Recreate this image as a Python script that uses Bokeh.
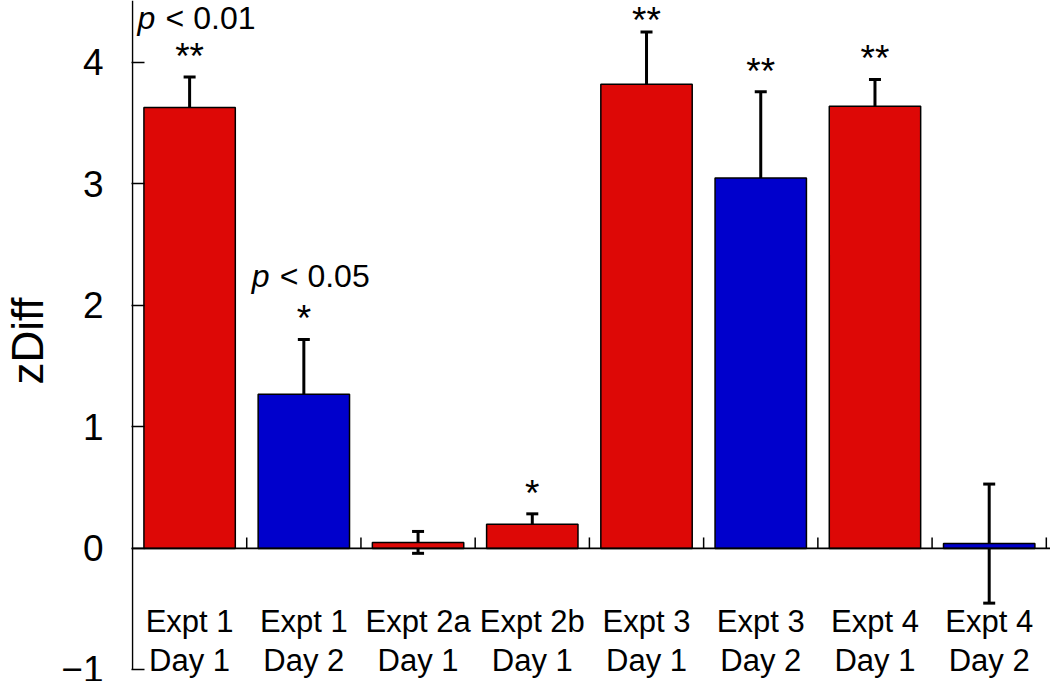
import math
from bokeh.plotting import figure
from bokeh.models import Range1d, FixedTicker, Span, ColumnDataSource, Whisker, TeeHead
from bokeh.core.properties import value
from bokeh.embed import file_html
from bokeh.resources import INLINE

# ---- data ----
expts = ["Expt 1", "Expt 1", "Expt 2a", "Expt 2b", "Expt 3", "Expt 3", "Expt 4", "Expt 4"]
days = ["Day 1", "Day 2", "Day 1", "Day 1", "Day 1", "Day 2", "Day 1", "Day 2"]
zdiff = [3.63, 1.27, 0.05, 0.20, 3.82, 3.05, 3.64, 0.04]
err = [0.25, 0.45, 0.09, 0.085, 0.43, 0.71, 0.22, 0.49]
stars = ["**", "*", "", "*", "**", "**", "**", ""]
p_index = [0, 1]
p_text = ["< 0.01", "< 0.05"]
y_ticks = [-1, 0, 1, 2, 3, 4]

RED = "#DD0806"
BLUE = "#0000CC"
FONT = "Liberation Sans"

W, H = 1050, 681
LEFT = 128
sx = 114.6                       # px per category
x_start = -0.5 - 1.0 / sx
x_end = x_start + (W - LEFT) / sx
y_end = 4.51
sy = 121.5                       # px per unit
y_start = y_end - H / sy

n = len(zdiff)
xs = list(range(n))
colors = [RED if d == "Day 1" else BLUE for d in days]
etop = [v + e for v, e in zip(zdiff, err)]
ebot = [v - e for v, e in zip(zdiff, err)]

BASE_SHIFT = 0.4  # svg text baseline shift (em) observed

# star placement (glyph centre ~27px above error top), kept inside the canvas
star_font = 37
star_off = []
for t in etop:
    dist = (y_end - t) * sy
    c = min(27, dist - 14)
    star_off.append(-c + 0.175 * star_font)

src = ColumnDataSource(dict(x=xs, top=zdiff, color=colors, upper=etop, lower=ebot,
                            stars=stars, soff=star_off, expt=expts, day=days))

p = figure(width=W, height=H, output_backend="svg", toolbar_location=None,
           x_range=Range1d(x_start, x_end), y_range=Range1d(y_start, y_end),
           min_border_left=LEFT, min_border_right=0, min_border_top=0, min_border_bottom=0,
           x_axis_location=None)
p.grid.visible = False
p.outline_line_color = None
p.background_fill_color = "white"
p.border_fill_color = "white"

# y axis
ya = p.yaxis[0]
ya.ticker = FixedTicker(ticks=y_ticks)
ya.major_label_overrides = {-1: "\u22121"}
ya.major_tick_in = 13
ya.major_tick_out = 0
ya.minor_tick_line_color = None
ya.axis_line_color = None
ya.major_tick_line_width = 1.5
ya.major_tick_line_color = "black"
ya.major_label_text_font = FONT
ya.major_label_text_font_size = "37px"
ya.major_label_text_color = "black"
ya.major_label_standoff = 28
ya.axis_label = "zDiff"
ya.axis_label_text_font = FONT
ya.axis_label_text_font_size = "44px"
ya.axis_label_text_font_style = "normal"
ya.axis_label_text_color = "black"
ya.axis_label_standoff = 6

# y axis line from the lowest tick to the top
p.segment(x0=[-0.5], y0=[y_ticks[0]], x1=[-0.5], y1=[y_end], line_color="black", line_width=1.5)

# bars
p.vbar(x="x", top="top", bottom=0, width=0.8, fill_color="color", line_color="black",
       line_width=1.5, source=src)

# zero line and category boundary ticks
p.add_layout(Span(location=0, dimension="width", line_color="black", line_width=1.8))
bounds = [i + 0.5 for i in range(n)]
p.ray(x=bounds, y=[0] * n, length=11, length_units="screen", angle=math.pi / 2,
      line_color="black", line_width=1.5)

# error bars
p.add_layout(Whisker(base="x", upper="upper", lower="lower", source=src,
                     line_color="black", line_width=3,
                     upper_head=TeeHead(size=12, line_width=3, line_color="black"),
                     lower_head=TeeHead(size=12, line_width=3, line_color="black")))

# significance stars
p.text(x="x", y="upper", text="stars", y_offset="soff", source=src,
       text_font=value(FONT), text_font_size=f"{star_font}px", text_align="center",
       text_baseline="alphabetic", text_color="black")

# p-value labels
p_font = 32
px_, py_, poff = [], [], []
for i in p_index:
    dist = (y_end - etop[i]) * sy
    base = min(51, dist - 0.95 * p_font)
    poff.append(-base - BASE_SHIFT * p_font)
    px_.append(xs[i])
    py_.append(etop[i])
psrc = ColumnDataSource(dict(x=px_, y=py_, off=poff, p=["p"] * len(px_), t=p_text))
p.text(x="x", y="y", text="p", y_offset="off", x_offset=-52, source=psrc,
       text_font=value(FONT), text_font_style="italic", text_font_size=f"{p_font}px",
       text_align="left", text_baseline="alphabetic", text_color="black")
p.text(x="x", y="y", text="t", y_offset="off", x_offset=-24, source=psrc,
       text_font=value(FONT), text_font_size=f"{p_font}px",
       text_align="left", text_baseline="alphabetic", text_color="black")

# category labels (two lines)
cat_font = 31
p.text(x="x", y=0, text="expt", y_offset=85 - BASE_SHIFT * cat_font, source=src,
       text_font=value(FONT), text_font_size=f"{cat_font}px", text_align="center",
       text_baseline="alphabetic", text_color="black")
p.text(x="x", y=0, text="day", y_offset=124 - BASE_SHIFT * cat_font, source=src,
       text_font=value(FONT), text_font_size=f"{cat_font}px", text_align="center",
       text_baseline="alphabetic", text_color="black")

open("out.html", "w").write(file_html(p, INLINE))
